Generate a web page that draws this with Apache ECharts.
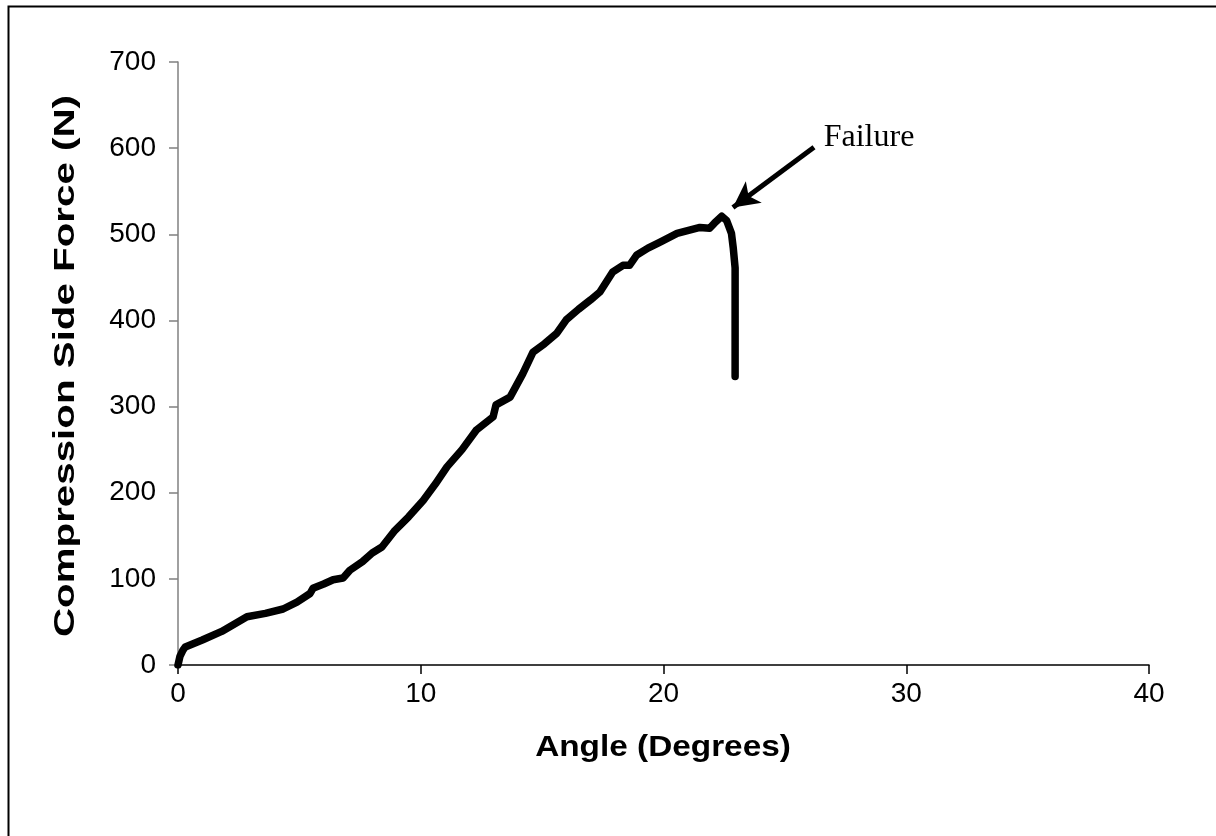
<!DOCTYPE html>
<html>
<head>
<meta charset="utf-8">
<script src="https://cdn.jsdelivr.net/npm/echarts@6/dist/echarts.min.js"></script>
<style>
  html, body { margin: 0; padding: 0; background: #ffffff; }
  #chart { width: 1216px; height: 836px; }
</style>
</head>
<body>
<div id="chart"></div>
<script>
// Rotation angle (degrees) and the compression-side force (N) measured at each step
const angle = [0, 0.08, 0.2, 0.3, 1.0, 1.8, 2.84, 3.6, 4.33, 4.9, 5.44, 5.56, 6.0, 6.39, 6.8, 7.08, 7.6, 8.0, 8.4, 8.9,
  9.5, 10.1, 10.6, 11.08, 11.7, 12.3, 12.98, 13.1, 13.68, 14.2, 14.62, 15.1, 15.6, 16.0, 16.5, 17.0, 17.38, 17.9,
  18.33, 18.6, 18.9, 19.36, 19.86, 20.56, 21.5, 21.9, 22.1, 22.4, 22.6, 22.8, 22.87, 22.95, 22.95, 22.95];
const force = [0, 10, 17, 21, 29, 39, 56, 60, 65, 73, 83, 89, 94, 99, 101, 110, 120, 130, 137, 155,
  172, 191, 210, 230, 250, 273, 288, 302, 311, 338, 363, 373, 385, 401, 413, 424, 433, 456,
  464, 464, 476, 484, 491, 501, 508, 507, 513, 521, 516, 501, 485, 461, 392, 335];

// Axis ranges and ticks
const xTicks = [0, 10, 20, 30, 40];
const yTicks = [0, 100, 200, 300, 400, 500, 600, 700];

// Axis titles
const xTitle = 'Angle (Degrees)';
const yTitle = 'Compression Side Force (N)';

// Failure callout: label anchor, arrow tail and arrow tip in data units
const failureText = 'Failure';
const failureLabelAt = [26.6, 612];
const arrowFrom = [26.2, 601];
const arrowTo = [22.86, 531];

const points = angle.map((a, i) => [a, force[i]]);

const chart = echarts.init(document.getElementById('chart'), null, { renderer: 'canvas' });

const sans = '"Liberation Sans", Arial, sans-serif';

chart.setOption({
  animation: false,
  backgroundColor: '#ffffff',
  grid: { left: 178, right: 67, top: 62, bottom: 171, containLabel: false },
  xAxis: {
    type: 'value',
    min: xTicks[0],
    max: xTicks[xTicks.length - 1],
    interval: xTicks[1] - xTicks[0],
    axisLine: { show: true, onZero: false, lineStyle: { color: '#000', width: 1.5 } },
    axisTick: { show: true, inside: false, length: 9, lineStyle: { color: '#000', width: 1.5 } },
    axisLabel: { fontFamily: sans, fontSize: 28, color: '#000', margin: 15 },
    splitLine: { show: false }
  },
  yAxis: {
    type: 'value',
    min: yTicks[0],
    max: yTicks[yTicks.length - 1],
    interval: yTicks[1] - yTicks[0],
    axisLine: { show: true, onZero: false, lineStyle: { color: '#808080', width: 1.5 } },
    axisTick: { show: true, inside: false, length: 9, lineStyle: { color: '#808080', width: 1.5 } },
    axisLabel: { fontFamily: sans, fontSize: 28, color: '#000', margin: 22 },
    splitLine: { show: false }
  },
  series: [{
    type: 'line',
    data: points,
    showSymbol: false,
    smooth: false,
    lineStyle: { color: '#000', width: 7.5, cap: 'round', join: 'round' },
    z: 3,
    markLine: {
      silent: true,
      symbol: ['none', 'arrow'],
      symbolSize: [20, 26],
      label: { show: false },
      lineStyle: { color: '#000', width: 5, type: 'solid' },
      data: [[{ coord: arrowFrom }, { coord: arrowTo }]]
    }
  }]
});

// Callout text, stretched axis titles and the outer frame
const labelPx = chart.convertToPixel({ gridIndex: 0 }, failureLabelAt);
const titleFont = 'bold 29px "Liberation Sans", Arial, sans-serif';
chart.setOption({
  graphic: [
    {
      type: 'rect',
      left: 6, top: 4,
      shape: { width: 1400, height: 1000 },
      style: { fill: 'none', stroke: '#000', lineWidth: 2 },
      silent: true
    },
    {
      type: 'text',
      x: labelPx[0], y: labelPx[1],
      style: {
        text: failureText,
        fill: '#000',
        font: '32px "Liberation Serif", "Times New Roman", serif',
        textAlign: 'left',
        textVerticalAlign: 'middle'
      },
      silent: true
    },
    {
      type: 'text',
      x: 663, y: 748,
      scaleX: 1.15,
      style: {
        text: xTitle,
        fill: '#000',
        font: titleFont,
        textAlign: 'center',
        textVerticalAlign: 'middle'
      },
      silent: true
    },
    {
      type: 'text',
      x: 66, y: 366,
      rotation: Math.PI / 2,
      scaleX: 1.39,
      style: {
        text: yTitle,
        fill: '#000',
        font: titleFont,
        textAlign: 'center',
        textVerticalAlign: 'middle'
      },
      silent: true
    }
  ]
});
</script>
</body>
</html>
